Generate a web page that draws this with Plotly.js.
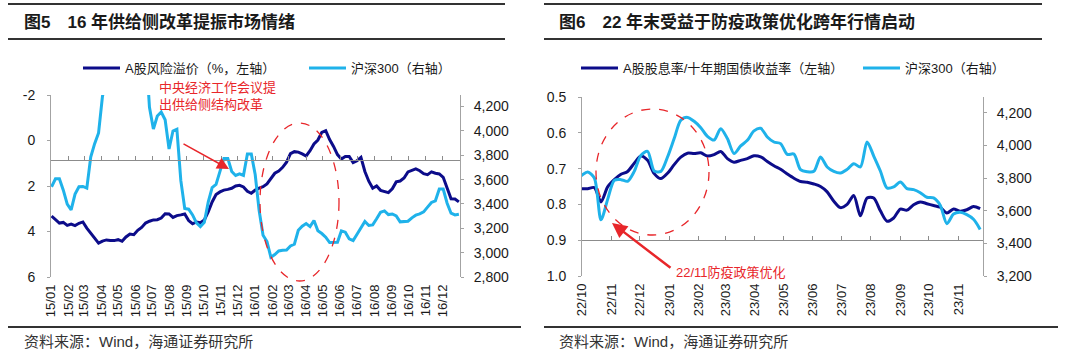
<!DOCTYPE html>
<html>
<head>
<meta charset="utf-8">
<script src="https://cdn.plot.ly/plotly-3.0.1.min.js"></script>
<style>
html,body{margin:0;padding:0;background:#ffffff;}
#chart{width:1080px;height:362px;}
</style>
</head>
<body>
<div id="chart"></div>
<script>
// ---------------- Figure 5 data (weekly, 2015-2016) ----------------
const fig5Title = '<b>图5　16 年供给侧改革提振市场情绪</b>';
const fig5Start = '2015-01-02';
const fig5MonthLabels = ['15/01','15/02','15/03','15/04','15/05','15/06','15/07','15/08','15/09','15/10','15/11','15/12',
                         '16/01','16/02','16/03','16/04','16/05','16/06','16/07','16/08','16/09','16/10','16/11','16/12'];
const fig5SeriesNames = ['A股风险溢价（%，左轴）', '沪深300（右轴）'];
const riskPremium = [3.32,3.48,3.63,3.60,3.73,3.67,3.74,3.64,3.58,3.85,
  4.08,4.29,4.51,4.42,4.37,4.40,4.40,4.36,4.43,4.24,
  4.11,4.14,3.95,3.82,3.63,3.55,3.49,3.48,3.41,3.22,
  3.23,3.38,3.30,3.27,3.23,3.52,3.66,3.58,3.61,3.49,
  3.14,2.70,2.38,2.26,2.18,2.15,2.10,2.00,1.97,2.04,
  2.23,2.32,2.18,2.09,2.03,1.91,1.65,1.44,1.34,1.18,
  0.95,0.58,0.49,0.51,0.59,0.68,0.45,0.15,-0.02,-0.36,
  -0.43,-0.04,0.26,0.62,0.81,0.70,0.70,0.97,0.89,0.74,
  1.36,1.79,2.10,2.00,2.19,2.25,2.29,2.12,1.82,1.78,
  1.65,1.38,1.30,1.25,1.33,1.46,1.50,1.38,1.44,1.47,
  1.62,2.09,2.56,2.57,2.70];
const csi300_1516 = [3541,3607,3607,3513,3398,3352,3481,3541,3544,3530,
  3785,3895,3983,4284,4420,4500,4720,4750,4650,4780,
  4950,5100,5250,5350,4700,4194,4015,4122,4155,4092,
  3851,3999,4013,3593,3363,3357,3310,3245,3214,3250,
  3415,3535,3560,3667,3774,3774,3667,3634,3648,3634,
  3810,3810,3640,3346,3143,3091,2962,2984,3014,3020,
  3022,3055,3069,3184,3217,3239,3214,3264,3179,3157,
  3127,3083,3083,3086,3179,3168,3113,3099,3151,3209,
  3256,3223,3228,3278,3332,3343,3313,3318,3302,3253,
  3253,3258,3286,3308,3318,3335,3374,3412,3426,3522,
  3522,3406,3324,3310,3316];
const fig5LeftTicks = [-2,0,2,4,6];
const fig5LeftTickText = ['-2','0','2','4','6'];
const fig5RightTicks = [2800,3000,3200,3400,3600,3800,4000,4200];
const fig5Note = '中央经济工作会议提<br>出供给侧结构改革';

// ---------------- Figure 6 data (weekly, 2022/10-2023/11) ----------------
const fig6Title = '<b>图6　22 年末受益于防疫政策优化跨年行情启动</b>';
const fig6Start = '2022-09-30';
const fig6MonthLabels = ['22/10','22/11','22/12','23/01','23/02','23/03','23/04','23/05','23/06','23/07','23/08','23/09','23/10','23/11'];
const fig6SeriesNames = ['A股股息率/十年期国债收益率（左轴）', '沪深300（右轴）'];
const dividendRatio = [0.756,0.756,0.753,0.793,0.751,0.731,0.716,0.708,0.685,0.665,
  0.677,0.714,0.728,0.713,0.689,0.668,0.657,0.658,0.656,0.665,
  0.661,0.652,0.672,0.682,0.677,0.672,0.664,0.667,0.680,0.692,
  0.702,0.715,0.727,0.736,0.738,0.743,0.750,0.765,0.791,0.809,
  0.800,0.775,0.832,0.782,0.782,0.818,0.847,0.838,0.813,0.816,
  0.801,0.793,0.798,0.803,0.808,0.824,0.813,0.819,0.815,0.806,
  0.812];
const csi300_2223 = [3814,3838,3801,3545,3670,3787,3791,3781,3842,3940,
  3965,3844,3842,3930,4043,4155,4173,4149,4110,4057,
  4034,4104,4043,3951,3998,4032,4090,4106,4053,4022,
  4012,3946,3948,3852,3840,3842,3930,3869,3842,3832,
  3854,3889,3869,4022,3936,3844,3740,3746,3777,3736,
  3730,3711,3683,3679,3634,3521,3580,3591,3576,3548,
  3486];
const fig6LeftTicks = [0.5,0.6,0.7,0.8,0.9,1.0];
const fig6RightTicks = [3200,3400,3600,3800,4000,4200];
const fig6Note = '22/11防疫政策优化';

const sourceText = '资料来源：Wind，海通证券研究所';

// ---------------- helpers ----------------
function weeklyDates(start, n) {
  const t0 = new Date(start + 'T00:00:00Z').getTime();
  const out = [];
  for (let i = 0; i < n; i++) out.push(new Date(t0 + i * 7 * 86400000).toISOString().slice(0, 10));
  return out;
}
function labelToDate(l) { return '20' + l.slice(0, 2) + '-' + l.slice(3, 5) + '-01'; }

const W = 1080, H = 362;
const PX = x => x / W;
const PY = y => 1 - y / H;
const FONT = '"Liberation Sans", Arial, "Noto Sans CJK SC", sans-serif';
const DARK = '#0c0c8a';
const LIGHT = '#1fb2ea';
const RED = '#e8262a';
const AXC = '#a3a3a3';
const TXT = '#1a1a1a';

const dates5 = weeklyDates(fig5Start, riskPremium.length);
const dates6 = weeklyDates(fig6Start, dividendRatio.length);
const tick5 = fig5MonthLabels.map(labelToDate);
const tick6 = fig6MonthLabels.map(labelToDate);
const range5 = ['2015-01-01', '2017-01-01'];
const range6 = ['2022-10-01', '2023-11-27'];

const traces = [
  {type:'scatter', mode:'lines', name:fig5SeriesNames[0], x:dates5, y:riskPremium, xaxis:'x', yaxis:'y',
   line:{color:DARK, width:3}, legend:'legend', legendwidth:174, hoverinfo:'skip'},
  {type:'scatter', mode:'lines', name:fig5SeriesNames[1], x:dates5, y:csi300_1516, xaxis:'x3', yaxis:'y2',
   line:{color:LIGHT, width:3}, legend:'legend', hoverinfo:'skip'},
  {type:'scatter', mode:'lines', name:fig6SeriesNames[0], x:dates6, y:dividendRatio, xaxis:'x2', yaxis:'y3',
   line:{color:DARK, width:3, shape:'spline', smoothing:0.8}, legend:'legend2', legendwidth:230, hoverinfo:'skip'},
  {type:'scatter', mode:'lines', name:fig6SeriesNames[1], x:dates6, y:csi300_2223, xaxis:'x4', yaxis:'y4',
   line:{color:LIGHT, width:3, shape:'spline', smoothing:0.8}, legend:'legend2', hoverinfo:'skip'}
];

const baseY = {showgrid:false, zeroline:false, showline:true, linecolor:AXC, linewidth:1,
  ticks:'outside', ticklen:3, tickcolor:AXC, tickfont:{size:14, color:TXT}, fixedrange:true, automargin:false};
const baseXLabels = {type:'date', tickmode:'array', tickangle:-90, showgrid:false, zeroline:false,
  showline:false, ticks:'', tickfont:{size:13, color:TXT}, fixedrange:true, ticklabelstandoff:4, automargin:false};
const baseXLine = {type:'date', tickmode:'array', showticklabels:false, showgrid:false, zeroline:false,
  showline:true, linecolor:'#8c8c8c', linewidth:1, ticks:'inside', ticklen:4, tickcolor:'#8c8c8c',
  anchor:'free', fixedrange:true, automargin:false};

const layout = {
  width:W, height:H, margin:{l:0, r:0, t:0, b:0, autoexpand:false},
  paper_bgcolor:'#ffffff', plot_bgcolor:'#ffffff',
  font:{family:FONT, size:13, color:TXT},
  showlegend:true,
  hovermode:false,
  // ---- Figure 5 axes ----
  xaxis: Object.assign({}, baseXLabels, {domain:[PX(51), PX(460)], anchor:'y', range:range5,
    tickvals:tick5, ticktext:fig5MonthLabels}),
  xaxis3: Object.assign({}, baseXLine, {domain:[PX(51), PX(460)], overlaying:'x', position:PY(160),
    range:range5, tickvals:tick5}),
  yaxis: Object.assign({}, baseY, {domain:[PY(277), PY(95)], anchor:'x', range:[6, -2],
    tickmode:'array', tickvals:fig5LeftTicks, ticktext:fig5LeftTickText, ticklabelstandoff:9}),
  yaxis2: Object.assign({}, baseY, {overlaying:'y', side:'right', anchor:'x', range:[2800, 4295],
    tickmode:'array', tickvals:fig5RightTicks, tickformat:',', ticklabelstandoff:7}),
  // ---- Figure 6 axes ----
  xaxis2: Object.assign({}, baseXLabels, {domain:[PX(582), PX(983)], anchor:'y3', range:range6,
    tickvals:tick6, ticktext:fig6MonthLabels}),
  xaxis4: Object.assign({}, baseXLine, {domain:[PX(582), PX(983)], overlaying:'x2', position:PY(240),
    range:range6, tickvals:tick6}),
  yaxis3: Object.assign({}, baseY, {domain:[PY(276), PY(97)], anchor:'x2', range:[1.0, 0.5],
    tickmode:'array', tickvals:fig6LeftTicks, tickformat:'.1f', ticklabelstandoff:9}),
  yaxis4: Object.assign({}, baseY, {overlaying:'y3', side:'right', anchor:'x2', range:[3200, 4298],
    tickmode:'array', tickvals:fig6RightTicks, tickformat:',', ticklabelstandoff:7}),
  legend: {orientation:'h', x:PX(78), xanchor:'left', y:PY(68), yanchor:'middle', itemwidth:37,
    font:{size:13, color:TXT}, bgcolor:'rgba(0,0,0,0)', borderwidth:0, traceorder:'normal'},
  legend2: {orientation:'h', x:PX(576), xanchor:'left', y:PY(68), yanchor:'middle', itemwidth:37,
    font:{size:13, color:TXT}, bgcolor:'rgba(0,0,0,0)', borderwidth:0, traceorder:'normal'},
  shapes: [
    // report rules
    {type:'line', xref:'paper', yref:'paper', x0:PX(8), x1:PX(505), y0:PY(4), y1:PY(4), line:{color:'#333333', width:2}},
    {type:'line', xref:'paper', yref:'paper', x0:PX(8), x1:PX(505), y0:PY(39), y1:PY(39), line:{color:'#333333', width:2}},
    {type:'line', xref:'paper', yref:'paper', x0:PX(8), x1:PX(521), y0:PY(327), y1:PY(327), line:{color:'#333333', width:2}},
    {type:'line', xref:'paper', yref:'paper', x0:PX(544), x1:PX(1042), y0:PY(4), y1:PY(4), line:{color:'#333333', width:2}},
    {type:'line', xref:'paper', yref:'paper', x0:PX(544), x1:PX(1042), y0:PY(39), y1:PY(39), line:{color:'#333333', width:2}},
    {type:'line', xref:'paper', yref:'paper', x0:PX(544), x1:PX(1058), y0:PY(327), y1:PY(327), line:{color:'#333333', width:2}},
    // dashed highlight ellipses
    {type:'circle', xref:'paper', yref:'paper', x0:PX(260), x1:PX(339), y0:PY(281), y1:PY(123),
     line:{color:RED, width:1.3, dash:'dash'}},
    {type:'circle', xref:'paper', yref:'paper', x0:PX(596), x1:PX(709), y0:PY(235), y1:PY(109),
     line:{color:RED, width:1.3, dash:'dash'}}
  ],
  annotations: [
    {xref:'paper', yref:'paper', x:PX(22), y:PY(22), xanchor:'left', yanchor:'middle', showarrow:false,
     text:fig5Title, font:{size:17, color:TXT}},
    {xref:'paper', yref:'paper', x:PX(557), y:PY(22), xanchor:'left', yanchor:'middle', showarrow:false,
     text:fig6Title, font:{size:17, color:TXT}},
    {xref:'paper', yref:'paper', x:PX(22), y:PY(341), xanchor:'left', yanchor:'middle', showarrow:false,
     text:sourceText, font:{size:15, color:'#333333'}},
    {xref:'paper', yref:'paper', x:PX(557), y:PY(341), xanchor:'left', yanchor:'middle', showarrow:false,
     text:sourceText, font:{size:15, color:'#333333'}},
    {xref:'paper', yref:'paper', x:PX(157), y:PY(96), xanchor:'left', yanchor:'middle', showarrow:false,
     align:'left', text:fig5Note, font:{size:13, color:RED}},
    {xref:'paper', yref:'paper', x:PX(229), y:PY(169), text:'', showarrow:true, axref:'pixel', ayref:'pixel',
     ax:-47, ay:-26, arrowhead:2, arrowsize:1.6, arrowwidth:1.5, arrowcolor:RED, standoff:0},
    {xref:'paper', yref:'paper', x:PX(674), y:PY(272), xanchor:'left', yanchor:'middle', showarrow:false,
     text:fig6Note, font:{size:13, color:RED}},
    {xref:'paper', yref:'paper', x:PX(612), y:PY(223), text:'', showarrow:true, axref:'pixel', ayref:'pixel',
     ax:60, ay:46, arrowhead:2, arrowsize:1.2, arrowwidth:2.5, arrowcolor:RED, standoff:0}
  ]
};

Plotly.newPlot('chart', traces, layout, {staticPlot:true, displayModeBar:false});
</script>
</body>
</html>
